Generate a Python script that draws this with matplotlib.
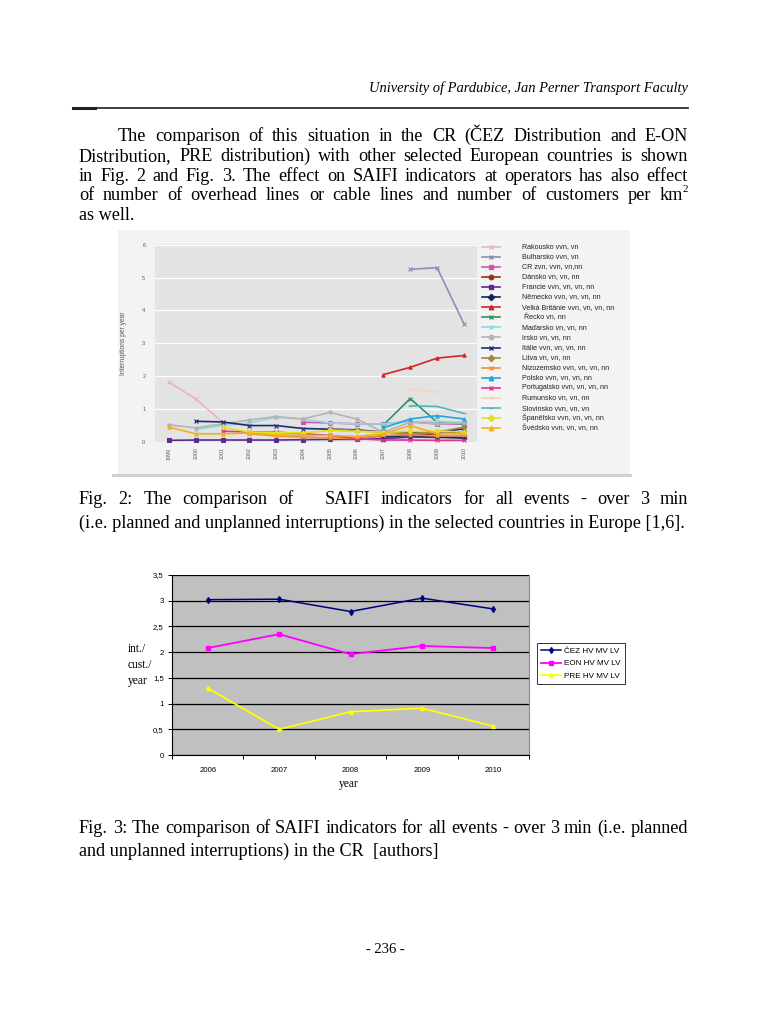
import numpy as np
import matplotlib
matplotlib.use('Agg')
import matplotlib.pyplot as plt
from matplotlib.lines import Line2D
from matplotlib.patches import Rectangle

# ---------------- data: Fig. 2 ----------------
years1 = [1999, 2000, 2001, 2002, 2003, 2004, 2005, 2006, 2007, 2008, 2009, 2010]
N = None
rakousko    = [1.82, 1.31, 0.60, N, N, N, N, N, N, N, N, N]
bulharsko   = [N, N, N, N, N, N, N, N, N, 5.25, 5.30, 3.60]
cr          = [N, N, N, N, N, 0.60, 0.58, 0.55, 0.55, 0.62, 0.55, 0.55]
dansko      = [N, N, N, N, N, N, N, 0.12, 0.18, 0.22, 0.25, 0.30]
francie     = [0.05, 0.06, 0.06, 0.06, 0.06, 0.07, 0.08, 0.08, 0.10, 0.15, 0.14, 0.14]
nemecko     = [N, N, N, N, N, N, N, N, 0.15, 0.20, 0.15, 0.12]
velka_brit  = [N, N, N, N, N, N, N, N, 2.05, 2.27, 2.55, 2.63]
recko       = [N, N, N, N, N, N, N, N, 0.52, 1.32, 0.60, 0.55]
madarsko    = [N, 0.38, 0.50, 0.58, 0.75, 0.70, 0.58, 0.55, 0.55, 0.62, 0.62, 0.60]
irsko       = [0.52, 0.43, 0.55, 0.67, 0.77, 0.70, 0.90, 0.70, 0.30, 0.60, 0.55, 0.58]
italie      = [N, 0.63, 0.61, 0.50, 0.50, 0.41, 0.39, 0.37, 0.30, 0.30, 0.30, 0.40]
litva       = [N, N, N, N, N, N, 0.40, 0.35, 0.30, 0.25, 0.30, 0.45]
nizozemsko  = [N, N, N, 0.25, 0.18, 0.15, 0.12, 0.10, 0.20, 0.22, 0.18, 0.20]
polsko      = [N, N, N, N, N, N, N, N, 0.43, 0.70, 0.80, 0.70]
portugalsko = [N, N, 0.33, 0.30, 0.30, 0.25, 0.20, 0.10, 0.06, 0.06, 0.05, 0.05]
rumunsko    = [N, N, N, N, N, N, N, N, N, 1.60, 1.52, N]
slovinsko   = [N, N, N, N, N, N, N, N, N, 1.10, 1.08, 0.87]
spanelsko   = [N, N, 0.45, 0.30, 0.28, 0.28, 0.35, 0.32, 0.30, 0.32, 0.33, 0.30]
svedsko     = [0.45, 0.25, 0.25, 0.27, 0.22, 0.20, 0.20, 0.17, 0.25, 0.50, 0.25, 0.25]

labels1 = ["Rakousko vvn, vn", "Bulharsko vvn, vn", "CR zvn, vvn, vn,nn",
           "Dánsko vn, vn, nn", "Francie vvn, vn, vn, nn", "Německo vvn, vn, vn, nn",
           "Velká Británie vvn, vn, vn, nn", " Řecko vn, nn", "Maďarsko vn, vn, nn",
           "Irsko vn, vn, nn", "Itálie vvn, vn, vn, nn", "Litva vn, vn, nn",
           "Nizozemsko vvn, vn, vn, nn", "Polsko vvn, vn, vn, nn",
           "Portugalsko vvn, vn, vn, nn", "Rumunsko vn, vn, nn", "Slovinsko vvn, vn, vn",
           "Španělsko vvn, vn, vn, nn", "Švédsko vvn, vn, vn, nn"]
series1 = [rakousko, bulharsko, cr, dansko, francie, nemecko, velka_brit, recko,
           madarsko, irsko, italie, litva, nizozemsko, polsko, portugalsko,
           rumunsko, slovinsko, spanelsko, svedsko]
colors1 = ['#e8b4cc', '#8a8fb8', '#d455a8', '#9c2f14', '#5b2a92', '#13245e',
           '#d42424', '#2e9268', '#8fd8e8', '#b4b4b4', '#1c2c72', '#a4884a',
           '#f0903c', '#22a6e0', '#e2348e', '#f5d6b8', '#52b6bc', '#e2e21c', '#f2b11c']
markers1 = ['x', 'x', 's', 'o', 's', 'D', '^', 'x', 'x', 'o', 'x', 'D',
            'x', '^', 'x', '+', '_', 'D', '^']
yticks1 = [0, 1, 2, 3, 4, 5, 6]

# ---------------- data: Fig. 3 ----------------
years2 = ['2006', '2007', '2008', '2009', '2010']
cez = [3.02, 3.03, 2.79, 3.05, 2.84]
eon = [2.08, 2.35, 1.96, 2.12, 2.08]
pre = [1.30, 0.50, 0.84, 0.91, 0.56]
labels2 = ['ČEZ HV MV LV', 'EON HV MV LV', 'PRE HV MV LV']
yticks2 = [0, 0.5, 1, 1.5, 2, 2.5, 3, 3.5]
yticklabels2 = ['0', '0,5', '1', '1,5', '2', '2,5', '3', '3,5']

# ---------------- page text ----------------
header = "University of Pardubice, Jan Perner Transport Faculty"
para = [
    "The comparison of this situation in the CR (ČEZ Distribution and E-ON",
    "Distribution, PRE distribution) with other selected European countries is shown",
    "in Fig. 2 and Fig. 3. The effect on SAIFI indicators at operators has also effect",
    "of number of overhead lines or cable lines and number of customers per km",
    "as well.",
]
cap2 = ["Fig. 2: The comparison of   SAIFI indicators for all events - over 3 min",
        "(i.e. planned and unplanned interruptions) in the selected countries in Europe [1,6]."]
cap3 = ["Fig. 3: The comparison of SAIFI indicators for all events - over 3 min (i.e. planned",
        "and unplanned interruptions) in the CR  [authors]"]
page_no = "- 236 -"

# ---------------- figure ----------------
W, H = 768, 1024
fig = plt.figure(figsize=(7.68, 10.24), dpi=100)
fig.patch.set_facecolor('white')
SERIF = 'Liberation Serif'
SANS = 'Liberation Sans'


def rect(x0, y0, x1, y1):
    return [x0 / W, 1 - y1 / H, (x1 - x0) / W, (y1 - y0) / H]


def fx(x):
    return x / W


def fy(y):
    return 1 - y / H


renderer = fig.canvas.get_renderer()


def twidth(s, size, style='normal', family=SERIF):
    if not s:
        return 0.0
    t = fig.text(0, 0, s, fontsize=size, family=family, style=style)
    w = t.get_window_extent(renderer).width
    t.remove()
    return w


# calibrate body font size from a natural (non justified) line
BODY_FS = 10 * 606 / twidth(cap2[1], 10)
FS_PX = BODY_FS * 100 / 72


def justify(line, x0, x1, yc, sup=None):
    words = line.split(' ')
    widths = [twidth(w, BODY_FS) for w in words]
    extra = 0
    if sup:
        extra = twidth(sup, BODY_FS * 0.6)
    gap = (x1 - x0 - sum(widths) - extra) / (len(words) - 1)
    x = x0
    yb = yc + 0.33 * FS_PX
    for w, wd in zip(words, widths):
        if w:
            fig.text(fx(x), fy(yb), w, fontsize=BODY_FS, family=SERIF, va='baseline')
        x += wd + gap
    if sup:
        fig.text(fx(x - gap), fy(yb - 0.45 * FS_PX), sup, fontsize=BODY_FS * 0.6,
                 family=SERIF, va='baseline')


def plain(line, x0, yc):
    fig.text(fx(x0), fy(yc + 0.33 * FS_PX), line, fontsize=BODY_FS, family=SERIF,
             va='baseline')


# header
hfs = 10 * 320 / twidth(header, 10, style='italic')
fig.text(fx(688), fy(92), header, fontsize=hfs, family=SERIF, style='italic',
         ha='right', va='baseline')
fig.add_artist(Line2D([fx(73), fx(688)], [fy(108), fy(108)], color='#303030', lw=1.3))
fig.add_artist(Line2D([fx(73), fx(95)], [fy(108), fy(108)], color='#202020', lw=2.2))

# paragraph
LM, RM = 79, 688
ys = [135, 155, 174.5, 194, 214]
justify(para[0], 118, RM, ys[0])
justify(para[1], LM, RM, ys[1])
justify(para[2], LM, RM, ys[2])
justify(para[3], LM, RM, ys[3], sup='2')
plain(para[4], LM, ys[4])

# captions
justify(cap2[0], LM, RM, 498)
plain(cap2[1], LM, 522)
justify(cap3[0], LM, RM, 827)
plain(cap3[1], LM, 850)
fig.text(fx(385), fy(948 + 0.33 * FS_PX * 0.8), page_no, fontsize=BODY_FS * 0.8,
         family=SERIF, ha='center', va='baseline')

# ---------------- Fig. 2 chart (image) ----------------
fig.add_artist(Rectangle((fx(118), fy(474)), (630 - 118) / W, (474 - 230) / H,
                         transform=fig.transFigure, facecolor='#f3f3f3',
                         edgecolor='none', zorder=0))
fig.add_artist(Rectangle((fx(112), fy(477)), (632 - 112) / W, 3 / H,
                         transform=fig.transFigure, facecolor='#cfcfcf',
                         edgecolor='none', zorder=0))

ax1 = fig.add_axes(rect(155, 244, 477, 442))
ax1.set_facecolor('#e3e3e3')
for s in ax1.spines.values():
    s.set_visible(False)
ax1.set_xlim(1998.48, 2010.49)
ax1.set_ylim(0, 6.02)
ax1.set_yticks(yticks1)
ax1.set_xticks(years1)
ax1.set_xticklabels([str(y) for y in years1], rotation=90, fontsize=3.8,
                    color='#555555', family=SANS)
ax1.set_yticklabels([str(v) for v in yticks1], fontsize=4.0, color='#555555', family=SANS)
ax1.tick_params(length=0, pad=7)
ax1.tick_params(axis='x', pad=4)
ax1.grid(axis='y', color='white', lw=0.9)
ax1.set_axisbelow(True)
ax1.set_ylabel('Interruptions per year', fontsize=4.8, color='#555555', family=SANS,
               labelpad=11)

for vals, c, m in zip(series1, colors1, markers1):
    arr = np.array(vals, dtype=float)
    ax1.plot(years1, arr, color=c, lw=1.2, marker=m, markersize=2.4,
             markeredgewidth=0.8, markerfacecolor=c, markeredgecolor=c)

# legend of Fig. 2 (as in the image)
for i, (lab, c, m) in enumerate(zip(labels1, colors1, markers1)):
    yy = 246.5 + i * 10.1
    fig.add_artist(Line2D([fx(482), fx(500)], [fy(yy), fy(yy)], color=c, lw=1.2))
    fig.add_artist(Line2D([fx(491)], [fy(yy)], color=c, marker=m, markersize=3.2,
                          markerfacecolor=c, markeredgecolor=c, markeredgewidth=1))
    fig.text(fx(522), fy(yy), lab, fontsize=5.1, family=SANS, color='#222222',
             va='center', ha='left')

# ---------------- Fig. 3 chart ----------------
ax2 = fig.add_axes(rect(172, 575, 529, 755))
ax2.set_facecolor('#c0c0c0')
ax2.set_xlim(-0.5, 4.5)
ax2.set_ylim(0, 3.5)
x2 = np.arange(len(years2))
ax2.plot(x2, cez, color='#000080', lw=1.1, marker='d', markersize=3)
ax2.plot(x2, eon, color='#ff00ff', lw=1.3, marker='s', markersize=2.8)
ax2.plot(x2, pre, color='#ffff00', lw=1.3, marker='^', markersize=2.8)
ax2.set_yticks(yticks2)
ax2.set_yticklabels(yticklabels2, fontsize=5.6, family=SANS)
ax2.set_xticks(x2)
ax2.set_xticklabels(years2, fontsize=5.6, family=SANS)
ax2.set_xticks(np.arange(-0.5, 4.6, 1), minor=True)
ax2.tick_params(axis='x', which='major', length=0, pad=9)
ax2.tick_params(axis='x', which='minor', length=3, direction='out', width=0.7)
ax2.tick_params(axis='y', length=3, width=0.7, pad=3)
ax2.grid(axis='y', color='black', lw=0.9)
ax2.set_axisbelow(True)
ax2.spines['top'].set_visible(False)
ax2.spines['right'].set_color('#8a8a8a')
ax2.spines['right'].set_linewidth(0.8)
ax2.spines['left'].set_linewidth(0.8)
ax2.spines['bottom'].set_linewidth(0.8)
leg = ax2.legend(labels2, loc='upper left', bbox_to_anchor=(fx(537), fy(643)),
                 bbox_transform=fig.transFigure, fontsize=5.9, frameon=True,
                 fancybox=False, edgecolor='black', handlelength=2.4,
                 borderpad=0.5, labelspacing=0.6, handletextpad=0.4,
                 borderaxespad=0)
leg.get_frame().set_linewidth(0.7)
for t in leg.get_texts():
    t.set_family(SANS)

fig.text(fx(128), fy(652), 'int./', fontsize=8.3, family=SERIF, va='baseline')
fig.text(fx(128), fy(668), 'cust./', fontsize=8.3, family=SERIF, va='baseline')
fig.text(fx(128), fy(684), 'year', fontsize=8.3, family=SERIF, va='baseline')
fig.text(fx(349), fy(787), 'year', fontsize=8.3, family=SERIF, ha='center',
         va='baseline')

fig.savefig('out.png', dpi=100, facecolor='white')
